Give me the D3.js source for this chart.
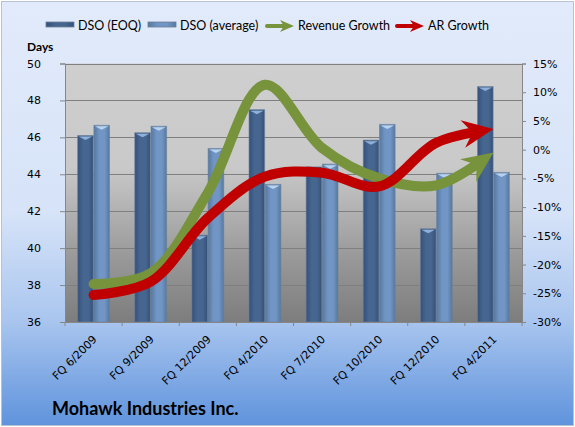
<!DOCTYPE html>
<html>
<head>
<meta charset="utf-8">
<script src="https://cdn.jsdelivr.net/npm/d3@7"></script>
<style>
  body { margin: 0; background: #fff; }
  svg text { fill: #000; }
</style>
</head>
<body>
<script>
// chart data
var categories = ["FQ 6/2009", "FQ 9/2009", "FQ 12/2009", "FQ 4/2010", "FQ 7/2010", "FQ 10/2010", "FQ 12/2010", "FQ 4/2011"];
var dsoEOQ = [46.1, 46.25, 40.7, 47.5, 44.4, 45.85, 41.05, 48.75];
var dsoAvg = [46.65, 46.6, 45.4, 43.45, 44.55, 46.7, 44.05, 44.1];
var revenueGrowth = [-23.4, -21.5, -7.5, 11.3, 0.3, -5, -6.2, -0.5];
var arGrowth = [-25.3, -23, -11.9, -4.7, -4, -6.4, 1.2, 3.6];
var daysTicks = [36, 38, 40, 42, 44, 46, 48, 50];
var pctTicks = [-30, -25, -20, -15, -10, -5, 0, 5, 10, 15];

var w = 575, h = 427;
var plot = {left: 65, right: 522, top: 63.5, bottom: 322};

var svg = d3.select("body").append("svg")
  .attr("width", w)
  .attr("height", h);

var defs = svg.append("defs");

// background gradient
var bg = defs.append("linearGradient").attr("id", "bg").attr("x1", 0).attr("y1", 0).attr("x2", 0).attr("y2", 1);
bg.append("stop").attr("offset", 0).attr("stop-color", "#e2ebfb");
bg.append("stop").attr("offset", 0.5).attr("stop-color", "#d6e3f8");
bg.append("stop").attr("offset", 0.75).attr("stop-color", "#aac6ef");
bg.append("stop").attr("offset", 1).attr("stop-color", "#5f93dc");

// plot area gradient
var pg = defs.append("linearGradient").attr("id", "pg").attr("x1", 0).attr("y1", 0).attr("x2", 0).attr("y2", 1);
pg.append("stop").attr("offset", 0).attr("stop-color", "#cfcfcf");
pg.append("stop").attr("offset", 0.4).attr("stop-color", "#c9c9c9");
pg.append("stop").attr("offset", 0.75).attr("stop-color", "#999999");
pg.append("stop").attr("offset", 1).attr("stop-color", "#7d7d7d");

// bar gradients (cylinder look)
function barGrad(id, edge, mid) {
  var g = defs.append("linearGradient").attr("id", id).attr("x1", 0).attr("y1", 0).attr("x2", 1).attr("y2", 0);
  g.append("stop").attr("offset", 0).attr("stop-color", edge);
  g.append("stop").attr("offset", 0.35).attr("stop-color", mid);
  g.append("stop").attr("offset", 0.7).attr("stop-color", mid);
  g.append("stop").attr("offset", 1).attr("stop-color", edge);
}
barGrad("gEOQ", "#34507a", "#46668f");
barGrad("gAvg", "#56799f", "#7195c4");

svg.append("rect")
  .attr("x", 1.5).attr("y", 1.5)
  .attr("width", w - 3).attr("height", h - 3)
  .attr("fill", "url(#bg)")
  .attr("stroke", "#b9c3cf");

svg.append("rect")
  .attr("x", plot.left).attr("y", plot.top)
  .attr("width", plot.right - plot.left).attr("height", plot.bottom - plot.top)
  .attr("fill", "url(#pg)");

// scales
var x0 = d3.scaleBand()
  .domain(categories)
  .range([plot.left, plot.right])
  .paddingInner(0.42)
  .paddingOuter(0.21);

var x1 = d3.scaleBand()
  .domain(["eoq", "avg"])
  .range([0, x0.bandwidth()])
  .padding(0.04);

var yDays = d3.scaleLinear().domain([36, 50]).range([plot.bottom, plot.top]);
var yPct = d3.scaleLinear().domain([-30, 15]).range([plot.bottom, plot.top]);

function xCenter(c) { return x0(c) + x0.bandwidth() / 2; }

// gridlines
svg.append("g")
  .selectAll("line")
  .data(daysTicks.slice(1))
  .enter().append("line")
  .attr("x1", plot.left).attr("x2", plot.right)
  .attr("y1", function(d) { return Math.round(yDays(d)) + 0.5; })
  .attr("y2", function(d) { return Math.round(yDays(d)) + 0.5; })
  .attr("stroke", "#7f7f7f");

// bars
var series = [
  {key: "eoq", values: dsoEOQ, fill: "url(#gEOQ)", cap: "#8fb0d8"},
  {key: "avg", values: dsoAvg, fill: "url(#gAvg)", cap: "#b9d3ef"}
];

series.forEach(function(s) {
  var g = svg.append("g");
  g.selectAll("rect")
    .data(categories)
    .enter().append("rect")
    .attr("x", function(c) { return x0(c) + x1(s.key); })
    .attr("y", function(c, i) { return yDays(s.values[i]); })
    .attr("width", x1.bandwidth())
    .attr("height", function(c, i) { return plot.bottom - yDays(s.values[i]); })
    .attr("fill", s.fill)
    .attr("stroke", "#6b7f99")
    .attr("stroke-opacity", 0.6);
  // little highlight at the top of each bar
  g.selectAll("path")
    .data(categories)
    .enter().append("path")
    .attr("d", function(c, i) {
      var bx = x0(c) + x1(s.key), bw = x1.bandwidth(), by = yDays(s.values[i]);
      return "M" + (bx + 1) + "," + (by + 1) + "L" + (bx + bw - 1) + "," + (by + 1) +
        "L" + (bx + bw / 2) + "," + (by + 4.5) + "Z";
    })
    .attr("fill", s.cap);
});

// axes
var leftAxis = svg.append("g")
  .attr("transform", "translate(" + plot.left + ",0)")
  .call(d3.axisLeft(yDays).tickValues(daysTicks).tickSize(5).tickPadding(19));

var rightAxis = svg.append("g")
  .attr("transform", "translate(" + plot.right + ",0)")
  .call(d3.axisRight(yPct).tickValues(pctTicks).tickSize(4).tickPadding(7)
    .tickFormat(function(d) { return d + "%"; }));

var bottomAxis = svg.append("g")
  .attr("transform", "translate(0," + plot.bottom + ")")
  .call(d3.axisBottom(x0).tickSize(0).tickFormat(""));

[leftAxis, rightAxis, bottomAxis].forEach(function(a) {
  a.select(".domain").attr("stroke", "#868686");
  a.selectAll(".tick line").attr("stroke", "#868686");
  a.selectAll("text").attr("font-family", "DejaVu Sans").attr("font-size", "11px").attr("fill", "#000");
});

// category boundary ticks on the x axis
svg.append("g")
  .selectAll("line")
  .data(categories.concat(["end"]))
  .enter().append("line")
  .attr("x1", function(c, i) { return plot.left + i * x0.step(); })
  .attr("x2", function(c, i) { return plot.left + i * x0.step(); })
  .attr("y1", plot.bottom).attr("y2", plot.bottom + 4)
  .attr("stroke", "#868686");

// rotated x labels
svg.append("g")
  .selectAll("text")
  .data(categories)
  .enter().append("text")
  .attr("transform", function(c) { return "translate(" + (xCenter(c) + 4) + "," + (plot.bottom + 18) + ") rotate(-45)"; })
  .attr("text-anchor", "end")
  .attr("font-family", "DejaVu Sans")
  .attr("font-size", "11px")
  .text(function(c) { return c; });

// growth lines with arrow heads
var line = d3.line()
  .x(function(d, i) { return xCenter(categories[i]); })
  .y(function(d) { return yPct(d); })
  .curve(d3.curveCatmullRom.alpha(0.5));

function arrowHead(g, x, y, angle, len, half, notch, color) {
  g.append("path")
    .attr("d", "M0,0L" + (-len) + "," + (-half) + "L" + (-notch) + ",0L" + (-len) + "," + half + "Z")
    .attr("transform", "translate(" + x + "," + y + ") rotate(" + angle + ")")
    .attr("fill", color);
}

function growthLine(values, color) {
  var g = svg.append("g");
  var p = g.append("path")
    .attr("d", line(values))
    .attr("fill", "none")
    .attr("stroke", color)
    .attr("stroke-width", 10)
    .attr("stroke-linecap", "round");
  var L = p.node().getTotalLength();
  p.attr("stroke-dasharray", (L - 20) + "," + 2000);
  var end = p.node().getPointAtLength(L);
  var back = p.node().getPointAtLength(L - 20);
  var ang = Math.atan2(end.y - back.y, end.x - back.x) * 180 / Math.PI;
  arrowHead(g, end.x, end.y, ang, 31, 14, 21, color);
}

growthLine(revenueGrowth, "#77933c");
growthLine(arGrowth, "#c00000");

// axis title
svg.append("text")
  .attr("x", 27).attr("y", 51)
  .attr("font-family", "Lato")
  .attr("font-weight", "bold")
  .attr("font-size", "12px")
  .text("Days");

// legend
var legY = 25;
var legBars = [
  {x: 46, label: "DSO (EOQ)", fill: "url(#gEOQ)"},
  {x: 148, label: "DSO (average)", fill: "url(#gAvg)"}
];
legBars.forEach(function(l) {
  svg.append("rect")
    .attr("x", l.x).attr("y", legY - 3)
    .attr("width", 28).attr("height", 5)
    .attr("fill", l.fill)
    .attr("stroke", "#6b7f99").attr("stroke-width", 0.8);
  svg.append("text")
    .attr("x", l.x + 32).attr("y", legY + 5)
    .attr("font-family", "Lato").attr("font-size", "12.5px")
    .text(l.label);
});

var legLines = [
  {x: 265, label: "Revenue Growth", color: "#77933c"},
  {x: 395, label: "AR Growth", color: "#c00000"}
];
legLines.forEach(function(l) {
  var g = svg.append("g");
  g.append("line")
    .attr("x1", l.x + 2).attr("x2", l.x + 18)
    .attr("y1", legY + 1).attr("y2", legY + 1)
    .attr("stroke", l.color).attr("stroke-width", 4)
    .attr("stroke-linecap", "round");
  arrowHead(g, l.x + 29, legY + 1, 0, 14, 6, 10, l.color);
  svg.append("text")
    .attr("x", l.x + 33).attr("y", legY + 5)
    .attr("font-family", "Lato").attr("font-size", "12.5px")
    .text(l.label);
});

// chart title
svg.append("text")
  .attr("x", 52).attr("y", 415)
  .attr("font-family", "Lato")
  .attr("font-weight", "bold")
  .attr("font-size", "18px")
  .text("Mohawk Industries Inc.");
</script>
</body>
</html>
